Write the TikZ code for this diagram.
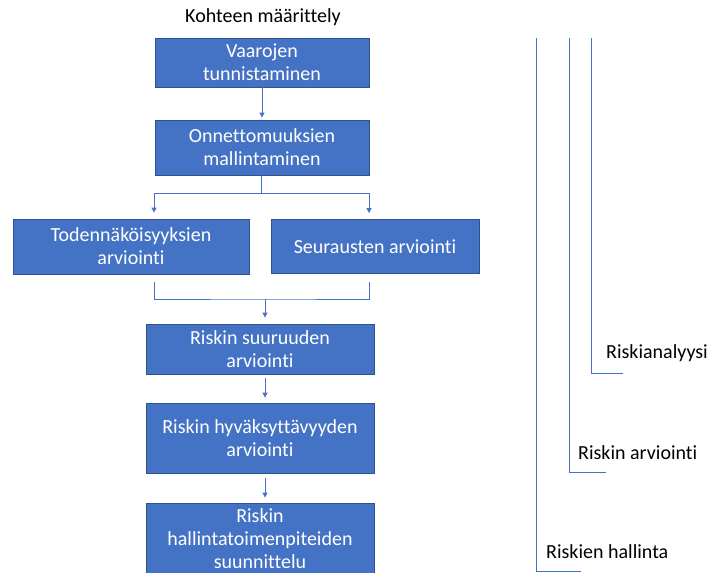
\documentclass[tikz,border=0pt]{standalone}
\usepackage{fontspec}
\setmainfont{Carlito}[Ligatures={NoCommon}]
\usepackage{xcolor}
\usetikzlibrary{%
	arrows.meta,%
	positioning,%
	calc
}
\definecolor{laatikko}{HTML}{4472C4}
\definecolor{reuna}{HTML}{2F528F}
\tikzset{
	vaihe/.style={rectangle, draw=reuna, line width=0.8pt, fill=laatikko, text=white, align=center, inner sep=0pt, font=\fontsize{20}{23}\selectfont},
	teksti/.style={inner sep=0pt, text=black, font=\fontsize{20}{23}\selectfont},
	yhteys/.style={draw=laatikko, line width=1pt},
	nuoli/.style={yhteys, -{Triangle[width=5pt,length=5pt]}}
}

\begin{document}
\begin{tikzpicture}[x=1pt,y=-1pt]
		\useasboundingbox (0,0) rectangle (710,573);
		\clip (0,0) rectangle (710,573);
		\node [teksti] (kohde) at (263,17) {Kohteen määrittely};
		% vaiheet
		\node [vaihe, minimum width=214pt, minimum height=49pt] (vaarat) at (262,62.5) {Vaarojen\\tunnistaminen};
		\node [vaihe, minimum width=214pt, minimum height=55pt] (mallit) at (262,147.5) {Onnettomuuksien\\mallintaminen};
		\node [vaihe, minimum width=236pt, minimum height=55pt] (todnak) at (131,246.5) {Todennäköisyyksien\\arviointi};
		\node [vaihe, minimum width=208pt, minimum height=54pt] (seuraus) at (375,246.5) {Seurausten arviointi};
		\node [vaihe, minimum width=228pt, minimum height=50pt] (suuruus) at (260,349) {Riskin suuruuden\\arviointi};
		\node [vaihe, minimum width=228pt, minimum height=70pt] (hyvaks) at (260,438) {Riskin hyväksyttävyyden\\arviointi};
		\node [vaihe, minimum width=228pt, minimum height=72pt] (hallinta) at (260,539) {Riskin\\hallintatoimenpiteiden\\suunnittelu};
		% yhteydet
		\draw [nuoli, shorten >=2pt] (vaarat) -- (mallit);
		\coordinate (jako) at (261,193);
		\coordinate (yhdys) at (265,299);
		\draw [yhteys] (mallit.south -| jako) -- (jako);
		\draw [nuoli, shorten >=6pt] (jako) -| ([xshift=23pt]todnak.north);
		\draw [nuoli, shorten >=6pt] (jako) -| ([xshift=-6pt]seuraus.north);
		\draw [yhteys, shorten <=8pt, shorten >=8pt] ([xshift=23pt]todnak.south) |- (yhdys) -| ([xshift=-6pt]seuraus.south);
		\draw [nuoli, shorten >=6pt] (yhdys) -- (yhdys |- suuruus.north);
		\draw [nuoli, shorten <=4pt, shorten >=5pt] ([xshift=5pt]suuruus.south) -- ([xshift=5pt]hyvaks.north);
		\draw [nuoli, shorten <=5pt, shorten >=5pt] ([xshift=5pt]hyvaks.south) -- ([xshift=5pt]hallinta.north);
		% sulkeet oikealla
		\foreach \x/\y/\e [count=\i] in {591/373/623, 569/472/606, 536/571/581}{
			\coordinate (yla\i) at (\x,38);
			\coordinate (ala\i) at (\e,\y);
			\draw [yhteys] (yla\i) |- (ala\i);
		}
		\node [teksti, anchor=west] (analyysi) at (606,353) {Riskianalyysi};
		\node [teksti, anchor=west] (arvio) at (578,453) {Riskin arviointi};
		\node [teksti, anchor=west] (hallita) at (546,552) {Riskien hallinta};
	\end{tikzpicture}
\end{document}
